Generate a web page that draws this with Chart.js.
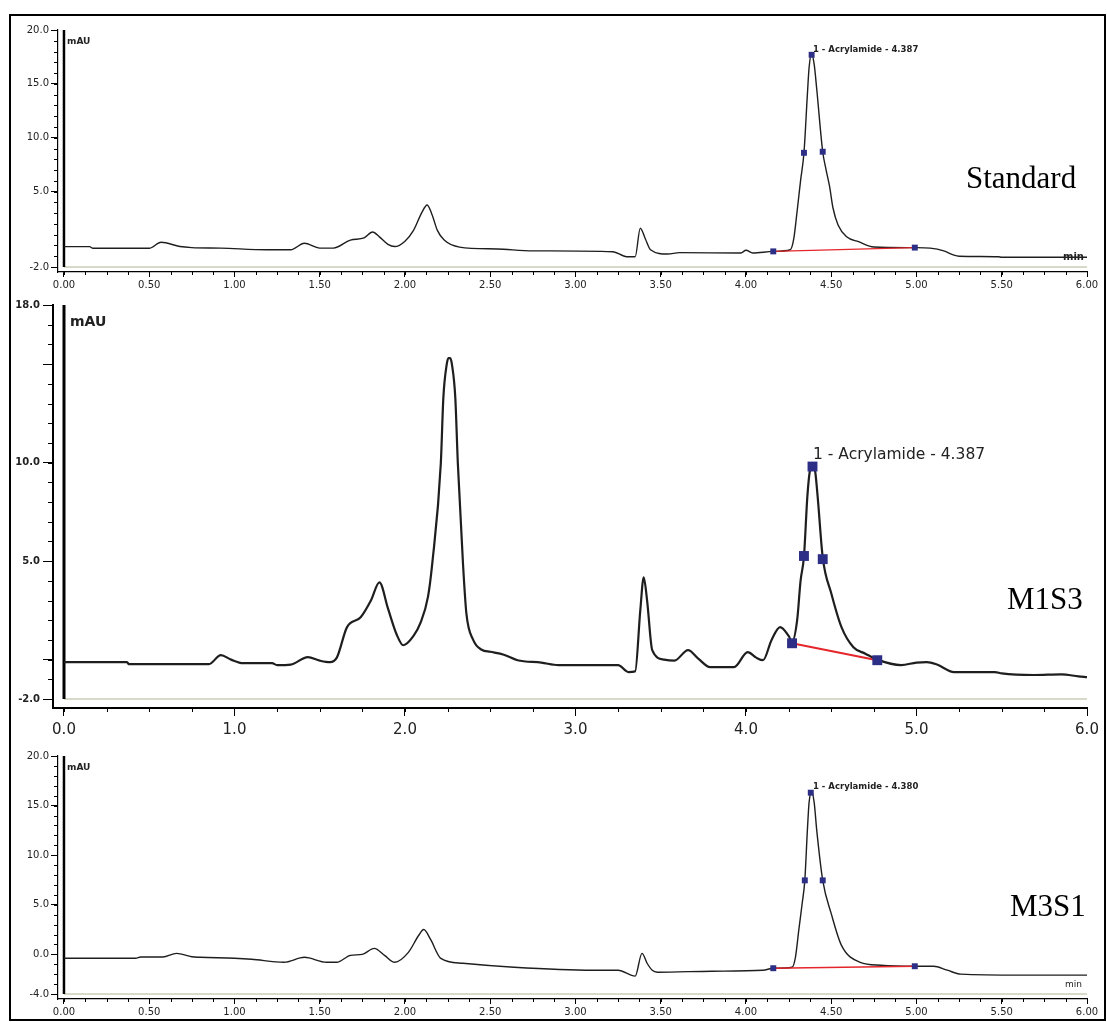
<!DOCTYPE html>
<html lang="en">
<head>
<meta charset="UTF-8">
<title>Acrylamide chromatograms</title>
<script src="https://cdn.jsdelivr.net/npm/chart.js"></script>
<style>
    body {
        margin: 0;
        padding: 0;
        background: #fff;
    }
    .page {
        position: relative;
        width: 1107px;
        height: 1022px;
        overflow: hidden;
    }
    .frame {
        position: absolute;
        left: 9px;
        top: 14px;
        width: 1097px;
        height: 1007px;
        border: 2px solid #000;
        box-sizing: border-box;
    }
    canvas {
        position: absolute;
        left: 0;
    }
    .txt {
        position: absolute;
        white-space: nowrap;
        color: #222;
        font-family: 'DejaVu Sans', sans-serif;
        transform: translateY(-50%);
        line-height: 1;
    }
    .big {
        font-family: 'Liberation Serif', 'Times New Roman', serif;
        font-size: 31px;
        color: #000;
    }
</style>
</head>
<body>
<div class="page">
    <div class="frame"></div>
    <canvas id="stdChart" width="1107" height="296" style="top:0"></canvas>
    <canvas id="m1s3Chart" width="1107" height="449" style="top:296px"></canvas>
    <canvas id="m3s1Chart" width="1107" height="277" style="top:745px"></canvas>

    <div class="txt" style="left:67px;top:41px;font-size:9px;font-weight:bold">mAU</div>
    <div class="txt" style="left:70px;top:321px;font-size:14px;font-weight:bold">mAU</div>
    <div class="txt" style="left:67px;top:767px;font-size:9px;font-weight:bold">mAU</div>

    <div class="txt" style="left:1063px;top:257px;font-size:10px;font-weight:bold">min</div>
    <div class="txt" style="left:1065px;top:984px;font-size:9px">min</div>

    <div class="txt" style="left:813px;top:49px;font-size:8.5px;font-weight:bold">1 - Acrylamide - 4.387</div>
    <div class="txt" style="left:813px;top:455px;font-size:15.5px">1 - Acrylamide - 4.387</div>
    <div class="txt" style="left:813px;top:786px;font-size:8.5px;font-weight:bold">1 - Acrylamide - 4.380</div>

    <div class="txt big" style="left:966px;top:177px">Standard</div>
    <div class="txt big" style="left:1007px;top:598px">M1S3</div>
    <div class="txt big" style="left:1010px;top:905px">M3S1</div>
</div>

<script>
    // ---- Standard ----
    const stdTime = [0, 0.15, 0.17, 0.50, 0.57, 0.68, 0.75, 0.92, 1.19, 1.33, 1.41, 1.50, 1.58, 1.68, 1.76, 1.81, 1.85, 1.90, 1.94, 2.00, 2.05, 2.10, 2.13, 2.16, 2.19, 2.23, 2.32, 2.54, 2.75, 3.22, 3.30, 3.35, 3.38, 3.41, 3.44, 3.54, 3.61, 3.97, 4.00, 4.04, 4.16, 4.26, 4.28, 4.30, 4.32, 4.34, 4.36, 4.37, 4.385, 4.40, 4.415, 4.45, 4.47, 4.49, 4.51, 4.54, 4.59, 4.66, 4.75, 4.99, 5.08, 5.16, 5.22, 5.25, 5.48, 5.50, 6.00];
    const stdSignal = [-0.11, -0.11, -0.26, -0.26, 0.3, -0.1, -0.2, -0.25, -0.4, -0.4, 0.2, -0.25, -0.25, 0.5, 0.7, 1.25, 0.8, 0.1, -0.1, 0.4, 1.4, 3.1, 3.76, 2.8, 1.4, 0.5, -0.15, -0.33, -0.5, -0.58, -1.05, -1.05, 1.6, 0.6, -0.4, -0.8, -0.67, -0.7, -0.45, -0.7, -0.55, -0.4, 0.6, 3.2, 6.0, 8.6, 14.0, 16.5, 17.8, 16.8, 14.5, 8.7, 7.0, 5.5, 3.5, 1.9, 0.8, 0.35, -0.14, -0.2, -0.25, -0.5, -0.9, -1.0, -1.05, -1.1, -1.1];
    const stdMarkTime = [4.16, 4.34, 4.385, 4.45, 4.99];
    const stdMarkValue = [-0.55, 8.6, 17.7, 8.7, -0.2];
    const stdBaseTime = [4.16, 4.99];
    const stdBaseValue = [-0.55, -0.2];
    const stdYTicks = [-2, 5, 10, 15, 20];
    const stdXTicks = [0, 0.5, 1, 1.5, 2, 2.5, 3, 3.5, 4, 4.5, 5, 5.5, 6];

    // ---- M1S3 ----
    const m1s3Time = [0, 0.37, 0.38, 0.85, 0.92, 0.98, 1.05, 1.22, 1.25, 1.33, 1.43, 1.50, 1.56, 1.60, 1.66, 1.74, 1.80, 1.85, 1.90, 1.95, 1.99, 2.05, 2.09, 2.135, 2.16, 2.21, 2.225, 2.245, 2.255, 2.265, 2.275, 2.295, 2.31, 2.34, 2.36, 2.40, 2.45, 2.50, 2.58, 2.66, 2.80, 2.90, 3.25, 3.31, 3.35, 3.38, 3.40, 3.42, 3.45, 3.52, 3.58, 3.66, 3.72, 3.79, 3.93, 4.01, 4.06, 4.10, 4.15, 4.20, 4.25, 4.27, 4.30, 4.32, 4.34, 4.36, 4.375, 4.39, 4.405, 4.42, 4.45, 4.50, 4.56, 4.63, 4.70, 4.77, 4.91, 5.00, 5.06, 5.12, 5.22, 5.46, 5.50, 5.69, 5.85, 5.95, 6.00];
    const m1s3Signal = [-0.13, -0.13, -0.23, -0.23, 0.23, 0.0, -0.18, -0.18, -0.28, -0.25, 0.13, -0.05, -0.13, 0.1, 1.65, 2.15, 3.0, 3.92, 2.6, 1.3, 0.73, 1.2, 1.85, 3.2, 4.89, 9.95, 13.3, 15.0, 15.3, 15.3, 15.0, 13.3, 9.95, 4.89, 2.35, 1.0, 0.5, 0.4, 0.25, -0.03, -0.15, -0.28, -0.28, -0.63, -0.6, 2.5, 4.18, 3.0, 0.48, 0.0, -0.05, 0.48, 0.05, -0.38, -0.38, 0.38, 0.1, -0.03, 1.0, 1.65, 1.2, 0.9, 2.0, 4.0, 5.24, 8.3, 9.6, 9.85, 9.6, 8.3, 5.19, 3.37, 1.65, 0.63, 0.3, 0.0, -0.28, -0.15, -0.13, -0.25, -0.63, -0.63, -0.7, -0.78, -0.75, -0.85, -0.89];
    const m1s3MarkTime = [4.27, 4.34, 4.39, 4.45, 4.77];
    const m1s3MarkValue = [0.83, 5.26, 9.8, 5.1, -0.03];
    const m1s3BaseTime = [4.27, 4.77];
    const m1s3BaseValue = [0.83, -0.03];
    const m1s3YTicks = [-2, 0, 5, 10, 15, 18];
    const m1s3YLabeled = [-2, 5, 10, 18];
    const m1s3XTicks = [0, 1, 2, 3, 4, 5, 6];

    // ---- M3S1 ----
    const m3s1Time = [0, 0.42, 0.45, 0.58, 0.66, 0.75, 0.80, 1.00, 1.10, 1.29, 1.41, 1.54, 1.60, 1.68, 1.75, 1.82, 1.88, 1.94, 2.02, 2.08, 2.11, 2.15, 2.21, 2.34, 2.64, 3.10, 3.25, 3.35, 3.39, 3.42, 3.45, 3.48, 3.80, 4.10, 4.16, 4.27, 4.29, 4.31, 4.33, 4.345, 4.36, 4.37, 4.385, 4.40, 4.415, 4.45, 4.50, 4.56, 4.67, 4.79, 4.99, 5.10, 5.18, 5.26, 5.61, 6.00];
    const m3s1Signal = [-0.4, -0.4, -0.27, -0.27, 0.1, -0.25, -0.3, -0.4, -0.5, -0.8, -0.3, -0.8, -0.8, -0.1, 0.0, 0.6, -0.1, -0.8, 0.2, 1.9, 2.5, 1.5, -0.4, -0.9, -1.3, -1.6, -1.6, -2.2, 0.1, -0.9, -1.6, -1.8, -1.7, -1.6, -1.4, -1.3, -0.3, 2.5, 5.2, 7.46, 12.5, 15.3, 16.4, 15.3, 12.5, 7.46, 4.1, 0.9, -0.8, -1.1, -1.2, -1.2, -1.6, -2.0, -2.1, -2.1];
    const m3s1MarkTime = [4.16, 4.345, 4.38, 4.45, 4.99];
    const m3s1MarkValue = [-1.4, 7.46, 16.3, 7.46, -1.2];
    const m3s1BaseTime = [4.16, 4.99];
    const m3s1BaseValue = [-1.4, -1.2];
    const m3s1YTicks = [-4, 0, 5, 10, 15, 20];
    const m3s1XTicks = [0, 0.5, 1, 1.5, 2, 2.5, 3, 3.5, 4, 4.5, 5, 5.5, 6];

    const toPoints = (xs, ys) => xs.map((x, i) => ({ x: x, y: ys[i] }));

    // plot frame (thick left line, grey bottom line) and minor ticks
    const axisDecor = {
        id: 'axisDecor',
        beforeDatasetsDraw(chart, args, o) {
            const ctx = chart.ctx;
            const x = chart.scales.x, y = chart.scales.y;
            const x0 = x.getPixelForValue(0), x6 = x.getPixelForValue(6);
            const yb = y.getPixelForValue(o.frameBottom), yt = y.getPixelForValue(y.max);
            ctx.save();
            ctx.lineCap = 'butt';
            ctx.strokeStyle = '#cdccb8';
            ctx.lineWidth = 1.5;
            ctx.beginPath(); ctx.moveTo(x0, yb); ctx.lineTo(x6, yb); ctx.stroke();
            ctx.strokeStyle = '#000';
            ctx.lineWidth = o.frameWidth;
            ctx.beginPath(); ctx.moveTo(x0, yt); ctx.lineTo(x0, yb); ctx.stroke();
            ctx.lineWidth = 1;
            ctx.beginPath();
            const nY = Math.round((y.max - o.yMinorStart) / o.yMinor);
            for (let i = 0; i <= nY; i++) {
                const py = Math.round(y.getPixelForValue(o.yMinorStart + i * o.yMinor)) + 0.5;
                ctx.moveTo(y.right - o.yMinorLen, py); ctx.lineTo(y.right, py);
            }
            const nX = Math.round(6 / o.xMinor);
            for (let i = 0; i <= nX; i++) {
                const px = Math.round(x.getPixelForValue(i * o.xMinor)) + 0.5;
                ctx.moveTo(px, x.top); ctx.lineTo(px, x.top + o.xMinorLen);
            }
            ctx.stroke();
            ctx.restore();
        }
    };

    function drawPanel(id, p) {
        return new Chart(document.getElementById(id), {
            type: 'line',
            data: {
                datasets: [{
                    data: toPoints(p.markT, p.markV),
                    showLine: false,
                    pointStyle: 'rect',
                    pointRadius: p.markR,
                    pointBackgroundColor: '#2d2f86',
                    pointBorderColor: '#2d2f86',
                    pointBorderWidth: 0
                }, {
                    data: toPoints(p.baseT, p.baseV),
                    borderColor: '#e4262b',
                    borderWidth: p.redWidth,
                    pointRadius: 0,
                    tension: 0
                }, {
                    data: toPoints(p.time, p.signal),
                    borderColor: '#1e1e1e',
                    borderWidth: p.lineWidth,
                    pointRadius: 0,
                    cubicInterpolationMode: 'monotone'
                }]
            },
            options: {
                responsive: false,
                animation: false,
                events: [],
                layout: { padding: { top: p.padTop, right: 20, left: 0, bottom: 0 } },
                plugins: {
                    legend: { display: false },
                    tooltip: { enabled: false },
                    axisDecor: p.decor
                },
                scales: {
                    x: {
                        type: 'linear',
                        min: p.xMin,
                        max: 6,
                        afterBuildTicks: s => { s.ticks = p.xTicks.map(v => ({ value: v })); },
                        afterFit: s => { s.height = p.xHeight; },
                        grid: { drawOnChartArea: false, tickLength: p.xTickLen, tickColor: '#000', tickWidth: 1 },
                        border: { color: '#000', width: p.xBorder },
                        ticks: {
                            autoSkip: false,
                            maxRotation: 0,
                            padding: p.xPad,
                            color: '#222',
                            font: p.xFont,
                            callback: v => v.toFixed(p.xDigits)
                        }
                    },
                    y: {
                        type: 'linear',
                        min: p.yMin,
                        max: p.yMax,
                        afterBuildTicks: s => { s.ticks = p.yTicks.map(v => ({ value: v })); },
                        afterFit: s => { s.width = p.yWidth; },
                        grid: { drawOnChartArea: false, tickLength: p.yTickLen, tickColor: '#000', tickWidth: 1 },
                        border: { color: '#000', width: p.yBorder },
                        ticks: {
                            autoSkip: false,
                            padding: p.yPad,
                            color: '#222',
                            font: p.yFont,
                            callback: v => (p.yLabeled.includes(v) ? v.toFixed(1) : '')
                        }
                    }
                }
            },
            plugins: [axisDecor]
        });
    }

    drawPanel('stdChart', {
        time: stdTime, signal: stdSignal,
        markT: stdMarkTime, markV: stdMarkValue,
        baseT: stdBaseTime, baseV: stdBaseValue,
        xTicks: stdXTicks, yTicks: stdYTicks, yLabeled: stdYTicks,
        xMin: -0.035, yMin: -2.464, yMax: 20,
        padTop: 30, yWidth: 58, xHeight: 24,
        xTickLen: 5, yTickLen: 7, xPad: 2, yPad: 2, xBorder: 1.2, yBorder: 1.2, xDigits: 2,
        xFont: { family: 'DejaVu Sans', size: 10 }, yFont: { family: 'DejaVu Sans', size: 10 },
        lineWidth: 1.4, redWidth: 1.4, markR: 4.2,
        decor: { frameBottom: -2, frameWidth: 2.5, yMinorStart: -2, yMinor: 1, yMinorLen: 4, xMinor: 0.125, xMinorLen: 3 }
    });

    drawPanel('m1s3Chart', {
        time: m1s3Time, signal: m1s3Signal,
        markT: m1s3MarkTime, markV: m1s3MarkValue,
        baseT: m1s3BaseTime, baseV: m1s3BaseValue,
        xTicks: m1s3XTicks, yTicks: m1s3YTicks, yLabeled: m1s3YLabeled,
        xMin: -0.0645, yMin: -2.456, yMax: 18,
        padTop: 8, yWidth: 53, xHeight: 37,
        xTickLen: 8, yTickLen: 10, xPad: 5, yPad: 3, xBorder: 2, yBorder: 2, xDigits: 1,
        xFont: { family: 'DejaVu Sans', size: 15 }, yFont: { family: 'DejaVu Sans', size: 10, weight: 'bold' },
        lineWidth: 2.2, redWidth: 2.2, markR: 7,
        decor: { frameBottom: -2, frameWidth: 3, yMinorStart: -2, yMinor: 1, yMinorLen: 5, xMinor: 0.25, xMinorLen: 4 }
    });

    drawPanel('m3s1Chart', {
        time: m3s1Time, signal: m3s1Signal,
        markT: m3s1MarkTime, markV: m3s1MarkValue,
        baseT: m3s1BaseTime, baseV: m3s1BaseValue,
        xTicks: m3s1XTicks, yTicks: m3s1YTicks, yLabeled: m3s1YTicks,
        xMin: -0.035, yMin: -4.504, yMax: 20,
        padTop: 11, yWidth: 58, xHeight: 23,
        xTickLen: 5, yTickLen: 7, xPad: 2, yPad: 2, xBorder: 1.2, yBorder: 1.2, xDigits: 2,
        xFont: { family: 'DejaVu Sans', size: 10 }, yFont: { family: 'DejaVu Sans', size: 10 },
        lineWidth: 1.4, redWidth: 1.4, markR: 4.2,
        decor: { frameBottom: -4, frameWidth: 2.5, yMinorStart: -4, yMinor: 1, yMinorLen: 4, xMinor: 0.125, xMinorLen: 3 }
    });
</script>
</body>
</html>
